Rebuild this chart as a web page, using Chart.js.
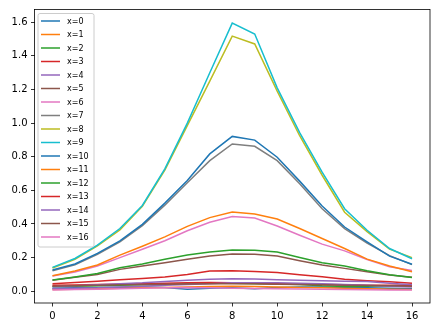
<!DOCTYPE html>
<html>
<head>
<meta charset="utf-8">
<script src="https://cdn.jsdelivr.net/npm/chart.js@4"></script>
<style>
  body { margin: 0; background: #fff; }
  #wrap { width: 438px; height: 329px; }
</style>
</head>
<body>
<div id="wrap"><canvas id="chart" width="438" height="329"></canvas></div>
<script>
// x positions and tick labels
const xValues = [0, 1, 2, 3, 4, 5, 6, 7, 8, 9, 10, 11, 12, 13, 14, 15, 16];
const xTicks = [0, 2, 4, 6, 8, 10, 12, 14, 16];
const yTicks = [0.0, 0.2, 0.4, 0.6, 0.8, 1.0, 1.2, 1.4, 1.6];

// one array per curve
const s0  = [0.018, 0.02, 0.022, 0.024, 0.025, 0.022, 0.012, 0.018, 0.02, 0.015, 0.022, 0.025, 0.025, 0.022, 0.02, 0.018, 0.015];
const s1  = [0.01, 0.012, 0.015, 0.018, 0.02, 0.022, 0.025, 0.028, 0.03, 0.028, 0.025, 0.022, 0.02, 0.018, 0.015, 0.012, 0.01];
const s2  = [0.028, 0.03, 0.032, 0.035, 0.038, 0.04, 0.045, 0.05, 0.048, 0.045, 0.043, 0.04, 0.032, 0.028, 0.03, 0.032, 0.035];
const s3  = [0.035, 0.037, 0.04, 0.042, 0.045, 0.048, 0.05, 0.052, 0.05, 0.048, 0.045, 0.042, 0.04, 0.038, 0.036, 0.035, 0.035];
const s4  = [0.015, 0.018, 0.02, 0.025, 0.03, 0.035, 0.04, 0.045, 0.05, 0.05, 0.05, 0.048, 0.045, 0.04, 0.035, 0.03, 0.025];
const s5  = [0.065, 0.083, 0.1, 0.13, 0.15, 0.17, 0.19, 0.21, 0.222, 0.22, 0.209, 0.181, 0.156, 0.136, 0.116, 0.096, 0.083];
const s6  = [0.09, 0.115, 0.15, 0.2, 0.25, 0.3, 0.36, 0.41, 0.444, 0.436, 0.388, 0.333, 0.28, 0.24, 0.189, 0.146, 0.124];
const s7  = [0.122, 0.158, 0.22, 0.293, 0.39, 0.512, 0.645, 0.777, 0.876, 0.862, 0.777, 0.639, 0.491, 0.373, 0.287, 0.212, 0.158];
const s8  = [0.138, 0.19, 0.27, 0.365, 0.505, 0.72, 0.985, 1.25, 1.518, 1.471, 1.19, 0.925, 0.69, 0.47, 0.355, 0.25, 0.2];
const s9  = [0.142, 0.195, 0.274, 0.373, 0.51, 0.728, 1.0, 1.3, 1.595, 1.53, 1.21, 0.944, 0.708, 0.491, 0.363, 0.254, 0.193];
const s10 = [0.126, 0.162, 0.225, 0.3, 0.398, 0.524, 0.659, 0.817, 0.921, 0.899, 0.797, 0.655, 0.507, 0.382, 0.294, 0.209, 0.161];
const s11 = [0.092, 0.12, 0.156, 0.215, 0.268, 0.323, 0.386, 0.438, 0.471, 0.459, 0.43, 0.373, 0.314, 0.254, 0.191, 0.15, 0.116];
const s12 = [0.067, 0.085, 0.106, 0.14, 0.162, 0.19, 0.215, 0.234, 0.246, 0.244, 0.234, 0.201, 0.169, 0.15, 0.122, 0.098, 0.081];
const s13 = [0.045, 0.052, 0.06, 0.068, 0.076, 0.085, 0.1, 0.12, 0.122, 0.118, 0.112, 0.098, 0.086, 0.071, 0.063, 0.057, 0.047];
const s14 = [0.027, 0.032, 0.038, 0.045, 0.05, 0.058, 0.065, 0.072, 0.075, 0.073, 0.068, 0.065, 0.062, 0.06, 0.058, 0.048, 0.038];
const s15 = [0.03, 0.032, 0.035, 0.038, 0.04, 0.042, 0.043, 0.045, 0.045, 0.044, 0.042, 0.04, 0.038, 0.036, 0.034, 0.032, 0.03];
const s16 = [0.008, 0.01, 0.012, 0.015, 0.018, 0.02, 0.022, 0.02, 0.018, 0.016, 0.015, 0.014, 0.012, 0.01, 0.009, 0.008, 0.008];

const seriesData = [s0, s1, s2, s3, s4, s5, s6, s7, s8, s9, s10, s11, s12, s13, s14, s15, s16];
const seriesNames = seriesData.map((_, i) => 'x=' + i);

// matplotlib tab10
const colors = ['#1f77b4', '#ff7f0e', '#2ca02c', '#d62728', '#9467bd',
                '#8c564b', '#e377c2', '#7f7f7f', '#bcbd22', '#17becf'];

const datasets = seriesData.map((vals, i) => ({
  label: seriesNames[i],
  data: vals.map((v, j) => ({ x: xValues[j], y: v })),
  borderColor: colors[i % 10],
  backgroundColor: colors[i % 10],
  borderWidth: 1.5,
  pointRadius: 0,
  tension: 0,
  fill: false,
  order: -i,   // later series on top, like matplotlib
}));

// frame + legend box in the upper left, drawn like matplotlib's
const framePlugin = {
  id: 'frame',
  afterDraw(chart) {
    const ctx = chart.ctx;
    const a = chart.chartArea;
    ctx.save();
    ctx.strokeStyle = '#000';
    ctx.lineWidth = 0.8;
    ctx.strokeRect(a.left, a.top, a.right - a.left, a.bottom - a.top);

    const bx = a.left + 3.5, by = a.top + 4;
    const rowH = 13.5, bw = 56;
    const bh = rowH * chart.data.datasets.length + 4;
    ctx.beginPath();
    ctx.roundRect(bx, by, bw, bh, 2);
    ctx.fillStyle = 'rgba(255,255,255,0.8)';
    ctx.fill();
    ctx.strokeStyle = '#cccccc';
    ctx.lineWidth = 1;
    ctx.stroke();

    ctx.font = '8px "DejaVu Sans"';
    ctx.textBaseline = 'middle';
    chart.data.datasets.forEach((ds, i) => {
      const y = by + 7.5 + i * rowH;
      ctx.beginPath();
      ctx.moveTo(bx + 3, y);
      ctx.lineTo(bx + 22, y);
      ctx.strokeStyle = ds.borderColor;
      ctx.lineWidth = 1.5;
      ctx.stroke();
      ctx.fillStyle = '#000';
      ctx.fillText(ds.label, bx + 29, y + 0.5);
    });
    ctx.restore();
  }
};

new Chart(document.getElementById('chart'), {
  type: 'line',
  data: { datasets: datasets },
  options: {
    responsive: false,
    animation: false,
    devicePixelRatio: 1,
    layout: { padding: { top: 8, right: 8, left: 0, bottom: 0 } },
    plugins: {
      legend: { display: false },
      tooltip: { enabled: false },
    },
    scales: {
      x: {
        type: 'linear',
        min: -0.8,
        max: 16.8,
        afterBuildTicks: scale => { scale.ticks = xTicks.map(v => ({ value: v })); },
        afterFit: scale => { scale.height = 26; },
        grid: { drawOnChartArea: false, drawTicks: true, tickLength: 3.5, tickWidth: 0.8, tickColor: '#000' },
        border: { display: false },
        ticks: {
          padding: 3.5,
          color: '#000',
          font: { family: 'DejaVu Sans', size: 10 },
          maxRotation: 0,
          callback: v => String(v),
        },
      },
      y: {
        type: 'linear',
        min: -0.07,
        max: 1.676,
        afterBuildTicks: scale => { scale.ticks = yTicks.map(v => ({ value: v })); },
        afterFit: scale => { scale.width = 34.5; },
        grid: { drawOnChartArea: false, drawTicks: true, tickLength: 3.5, tickWidth: 0.8, tickColor: '#000' },
        border: { display: false },
        ticks: {
          padding: 3.5,
          color: '#000',
          font: { family: 'DejaVu Sans', size: 10 },
          callback: v => v.toFixed(1),
        },
      },
    },
  },
  plugins: [framePlugin],
});
</script>
</body>
</html>
